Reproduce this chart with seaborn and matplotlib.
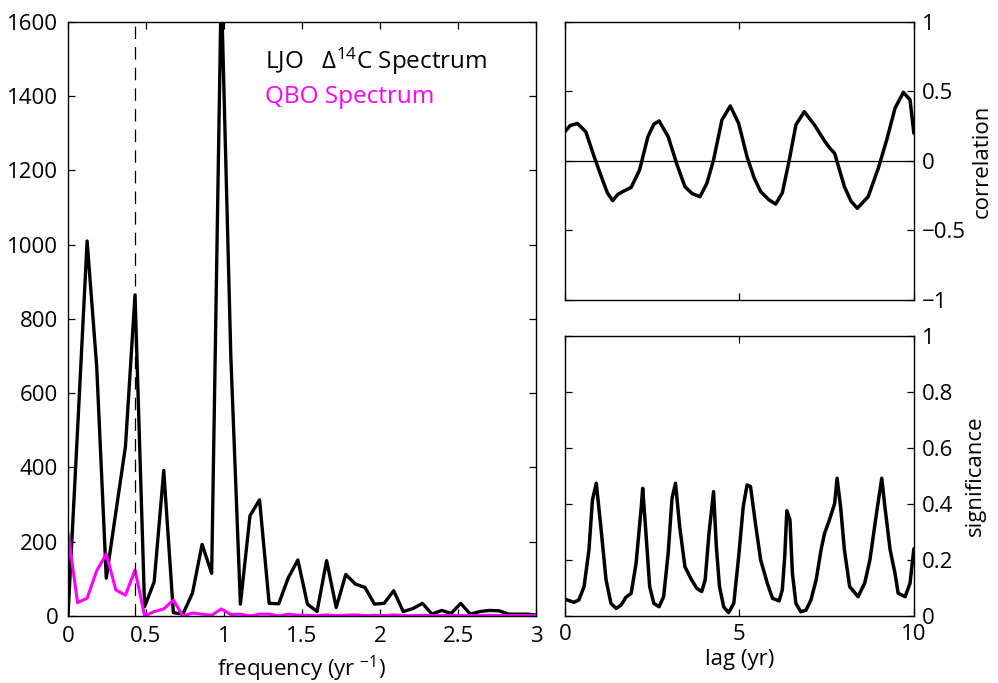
import numpy as np
import pandas as pd
import seaborn as sns
import matplotlib.pyplot as plt
from matplotlib.ticker import FuncFormatter

# Spectra (power vs frequency)
FREQ_STEP = 0.0614  # yr^-1 between spectral estimates
ljo_power = [0, 500, 1010, 672, 102, 280, 456, 865, 25, 92,
             392, 9, 5, 62, 193, 115, 1700, 700, 32, 270,
             313, 34, 33, 103, 151, 32, 12, 149, 23, 112,
             86, 77, 32, 34, 68, 12, 20, 34, 5, 15,
             7, 34, 5, 12, 15, 14, 5, 5, 5, 2]
qbo_power = [224, 36, 48, 122, 167, 70, 56, 124, 0, 12,
             19, 43, 0, 8, 5, 2, 19, 4, 5, 0,
             5, 5, 0, 5, 2, 2, 1, 3, 1, 2,
             3, 1, 2, 1, 3, 1, 1, 2, 1, 1,
             2, 1, 1, 1, 2, 1, 1, 1, 1, 1]
qbo_freq = 12 / 28  # 28-month QBO period

# Lagged correlation
corr_lag = [0.0, 0.15, 0.36, 0.6, 0.84, 1.08, 1.22, 1.37, 1.52, 1.66, 1.9, 2.14,
            2.38, 2.55, 2.7, 2.96, 3.2, 3.44, 3.65, 3.87, 4.07, 4.26, 4.5,
            4.74, 4.98, 5.22, 5.42, 5.61, 5.85, 6.04, 6.23, 6.43, 6.62,
            6.86, 7.15, 7.44, 7.6, 7.73, 8.01, 8.2, 8.38, 8.69, 8.98, 9.22,
            9.46, 9.7, 9.89, 10.0]
corr_val = [0.21, 0.255, 0.27, 0.21, 0.03, -0.137, -0.23, -0.285, -0.24, -0.22,
            -0.19, -0.065, 0.175, 0.265, 0.288, 0.175, -0.017, -0.185, -0.235,
            -0.257, -0.16, 0.007, 0.295, 0.396, 0.27, 0.03, -0.12, -0.22, -0.28,
            -0.31, -0.23, 0.007, 0.26, 0.355, 0.26, 0.144, 0.09, 0.055, -0.185,
            -0.29, -0.34, -0.257, -0.053, 0.15, 0.38, 0.494, 0.44, 0.2]

# Significance of the lagged correlation
sig_lag = [0.0, 0.26, 0.4, 0.55, 0.69, 0.79, 0.9, 1.03, 1.18, 1.32, 1.47, 1.61,
           1.75, 1.9, 2.04, 2.19, 2.23, 2.31, 2.43, 2.55, 2.7, 2.83, 2.96, 3.07,
           3.17, 3.29, 3.44, 3.63, 3.78, 3.92, 4.02, 4.13, 4.26, 4.34, 4.43,
           4.55, 4.69, 4.84, 4.98, 5.11, 5.22, 5.32, 5.46, 5.61, 5.8, 5.95,
           6.14, 6.23, 6.3, 6.36, 6.45, 6.52, 6.62, 6.76, 6.91, 7.05, 7.2,
           7.34, 7.44, 7.58, 7.73, 7.8, 7.9, 8.01, 8.16, 8.4, 8.59, 8.74,
           8.93, 9.08, 9.17, 9.32, 9.46, 9.55, 9.75, 9.89, 10.0]
sig_val = [0.06, 0.049, 0.057, 0.105, 0.236, 0.414, 0.474, 0.319, 0.129, 0.045,
           0.027, 0.039, 0.067, 0.081, 0.188, 0.39, 0.456, 0.319, 0.105, 0.045,
           0.033, 0.069, 0.224, 0.42, 0.474, 0.319, 0.176, 0.129, 0.099, 0.087,
           0.129, 0.295, 0.444, 0.248, 0.105, 0.033, 0.012, 0.045, 0.212, 0.39,
           0.468, 0.462, 0.331, 0.2, 0.117, 0.063, 0.054, 0.093, 0.212, 0.376,
           0.343, 0.152, 0.045, 0.015, 0.021, 0.057, 0.129, 0.236, 0.295, 0.343,
           0.402, 0.492, 0.39, 0.236, 0.105, 0.069, 0.117, 0.2, 0.367, 0.492,
           0.39, 0.236, 0.152, 0.081, 0.069, 0.117, 0.24]

sns.set_style("ticks")
plt.rcParams["font.family"] = ["Open Sans", "DejaVu Sans"]
plt.rcParams["mathtext.fontset"] = "custom"
plt.rcParams["mathtext.rm"] = "Open Sans"
plt.rcParams["mathtext.it"] = "Open Sans:italic"
plt.rcParams["axes.linewidth"] = 1.0
plt.rcParams["axes.edgecolor"] = "black"
plt.rcParams["text.color"] = "black"
plt.rcParams["axes.labelcolor"] = "black"
plt.rcParams["xtick.color"] = "black"
plt.rcParams["ytick.color"] = "black"

TICK_SIZE = 16
LABEL_SIZE = 16


def fmt(v, pos):
    return ("%g" % v).replace("-", "\u2212")


freq = np.arange(len(ljo_power)) * FREQ_STEP
spec = pd.DataFrame({"freq": freq, "ljo": ljo_power, "qbo": qbo_power})

fig = plt.figure(figsize=(9.98, 6.83), dpi=100)
ax1 = fig.add_axes([0.0681, 0.0981, 0.469, 0.8697])
ax2 = fig.add_axes([0.566, 0.5608, 0.3497, 0.407])
ax3 = fig.add_axes([0.566, 0.0981, 0.3497, 0.41])

# Left: spectra
sns.lineplot(data=spec, x="freq", y="ljo", ax=ax1, color="black", lw=2.4,
             estimator=None, sort=False)
sns.lineplot(data=spec, x="freq", y="qbo", ax=ax1, color="#ff00ff", lw=2.2,
             estimator=None, sort=False)
ax1.axvline(qbo_freq, color="black", lw=0.9, ls=(0, (10, 6.5)))
ax1.set_xlim(0, 3)
ax1.set_ylim(0, 1600)
ax1.set_xticks([0, 0.5, 1, 1.5, 2, 2.5, 3])
ax1.set_yticks(range(0, 1601, 200))
ax1.xaxis.set_major_formatter(FuncFormatter(fmt))
ax1.set_xlabel("frequency (yr $^{-1}$)", fontsize=LABEL_SIZE, labelpad=5)
ax1.set_ylabel("")
ax1.text(0.42, 0.933, "LJO   \u0394$^{14}$C Spectrum", transform=ax1.transAxes,
         fontsize=17.5, color="black", va="center")
ax1.text(0.42, 0.873, "QBO Spectrum", transform=ax1.transAxes,
         fontsize=17.5, color="#ff00ff", va="center")
ax1.tick_params(direction="in", top=True, right=True, length=5, width=0.9,
                labelsize=TICK_SIZE, pad=7)

# Top right: correlation
cdf = pd.DataFrame({"lag": corr_lag, "corr": corr_val})
sns.lineplot(data=cdf, x="lag", y="corr", ax=ax2, color="black", lw=2.5,
             estimator=None, sort=False)
ax2.axhline(0, color="black", lw=0.9)
ax2.set_xlim(0, 10)
ax2.set_ylim(-1, 1)
ax2.set_xticks([0, 5, 10])
ax2.set_yticks([-1, -0.5, 0, 0.5, 1])
ax2.yaxis.set_major_formatter(FuncFormatter(fmt))
ax2.yaxis.tick_right()
ax2.yaxis.set_label_position("right")
ax2.set_ylabel("correlation", fontsize=LABEL_SIZE, labelpad=4)
ax2.set_xlabel("")
ax2.tick_params(direction="in", top=True, bottom=True, left=True, right=True,
                labelbottom=False, labelleft=False, labelright=True,
                length=5, width=0.9, labelsize=TICK_SIZE, pad=6)

# Bottom right: significance
sdf = pd.DataFrame({"lag": sig_lag, "sig": sig_val})
sns.lineplot(data=sdf, x="lag", y="sig", ax=ax3, color="black", lw=2.5,
             estimator=None, sort=False)
ax3.set_xlim(0, 10)
ax3.set_ylim(0, 1)
ax3.set_xticks([0, 5, 10])
ax3.set_yticks([0, 0.2, 0.4, 0.6, 0.8, 1])
ax3.xaxis.set_major_formatter(FuncFormatter(fmt))
ax3.yaxis.set_major_formatter(FuncFormatter(fmt))
ax3.yaxis.tick_right()
ax3.yaxis.set_label_position("right")
ax3.set_ylabel("significance", fontsize=LABEL_SIZE, labelpad=8)
ax3.set_xlabel("lag (yr)", fontsize=LABEL_SIZE, labelpad=3)
ax3.tick_params(direction="in", top=True, bottom=True, left=True, right=True,
                labelleft=False, labelright=True,
                length=5, width=0.9, labelsize=TICK_SIZE, pad=6)

for ax in (ax1, ax2, ax3):
    for s in ax.spines.values():
        s.set_visible(True)

fig.savefig("out.png", dpi=100)
